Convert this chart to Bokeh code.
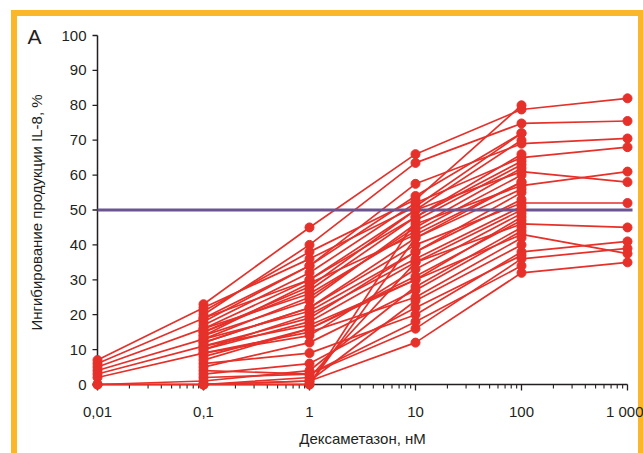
import math
from bokeh.plotting import figure
from bokeh.models import FixedTicker, Range1d, Title
from bokeh.embed import file_html
from bokeh.resources import INLINE

# ---- data -------------------------------------------------------------
conc = [0.01, 0.1, 1, 10, 100, 1000]                 # dexamethasone, nM
x_tick_labels = ["0,01", "0,1", "1", "10", "100", "1 000"]
y_ticks = [0, 10, 20, 30, 40, 50, 60, 70, 80, 90, 100]
threshold = 50

# inhibition of IL-8 production (%) per subject at each concentration (None = not measured)
v001 = [7, 6, 5, 4, 3, 2, 0, 0, 0,
        None, None, None, None, None, None, None, None, None, None, None, None,
        None, None, None, None, None, None, None, None, None, None, None, None,
        None, None, None, None]
v01 = [22, 19, 16, 13, 11, 9, 0, 0, 1,
       23, 20, 18, 17, 15, 14, 12, 10, 8, 6, 4, 0,
       21, 19, 16, 15, 13, 12, 11, 9, 5, 0, 0, 2,
       14, 10, 7, 3]
v1 = [36, 30, 26, 21, 17, 15, 0, 2, 4,
      45, 40, 34, 32, 28, 24, 22, 18, 16, 9, 3, 1,
      38, 34, 30, 27, 25, 22, 19, 14, 12, 0, 1, 3,
      29, 20, 16, 6]
v10 = [51, 48, 44, 38, 30, 25, 42, 35, 28,
       66, 63.5, 57.5, 52, 50, 46, 40, 35, 30, 20, 16, 12,
       53, 54, 50, 48, 45, 42, 38, 33, 27, 47, 24, 18,
       43, 36, 31, 22]
v100 = [72, 66, 60, 55, 48, 42, 58, 50, 45,
        78.8, 74.8, 69, 65, 61, 57, 52, 46, 43, 38, 36, 32,
        80, 72, 70, 64, 62, 56, 53, 49, 44, 63, 40, 34,
        58, 51, 47, 37]
v1000 = [None, None, None, None, None, None, None, None, None,
         82, 75.5, 70.5, 68, 58, 61, 52, 45, 37.5, 41, 39, 35,
         None, None, None, None, None, None, None, None, None, None, None, None,
         None, None, None, None]

# ---- layout (pixels) ---------------------------------------------------
W, H = 643, 453
frame_left, frame_right = 91, 633
frame_top, frame_bottom = 32, 392
px_x0, px_x1 = 97, 627      # pixel of first / last concentration
px_y100, px_y0 = 35, 384    # pixel of 100 % / 0 %

dec = (px_x1 - px_x0) / 5.0
x_start = 10 ** (math.log10(conc[0]) - (px_x0 - frame_left) / dec)
x_end = 10 ** (math.log10(conc[-1]) + (frame_right - px_x1) / dec)
upp = 100.0 / (px_y0 - px_y100)
y_start = -(frame_bottom - px_y0) * upp
y_end = 100 + (px_y100 - frame_top) * upp

FONT = "'Liberation Sans', Arial, sans-serif"
TXT = "#231F20"
RED = "#E5312A"
PURPLE = "#6A5590"
ORANGE = "#FBB62A"

p = figure(width=W, height=H, x_axis_type="log",
           x_range=Range1d(x_start, x_end), y_range=Range1d(y_start, y_end),
           output_backend="svg", toolbar_location=None,
           min_border_left=frame_left, min_border_right=W - frame_right,
           min_border_top=frame_top, min_border_bottom=H - frame_bottom)
p.outline_line_color = None
p.xgrid.grid_line_color = None
p.ygrid.grid_line_color = None
p.background_fill_color = "white"
p.border_fill_color = None

# orange frame of the panel (page background of the figure element)
p.styles = {
    "background-color": "white",
    "background-image": (f"linear-gradient({ORANGE},{ORANGE}), "
                         f"linear-gradient({ORANGE},{ORANGE}), "
                         f"linear-gradient({ORANGE},{ORANGE})"),
    "background-size": "632px 6px, 6px 443px, 5px 443px",
    "background-position": "11px 10px, 11px 10px, 638px 10px",
    "background-repeat": "no-repeat",
}

for ax in (p.xaxis[0], p.yaxis[0]):
    ax.axis_line_color = None
    ax.major_tick_line_color = None
    ax.minor_tick_line_color = None
    ax.major_tick_in = 0
    ax.major_tick_out = 0
    ax.minor_tick_in = 0
    ax.minor_tick_out = 0
    ax.major_label_text_font = FONT
    ax.major_label_text_font_size = "15px"
    ax.major_label_text_color = TXT
    ax.axis_label_text_font = FONT
    ax.axis_label_text_font_size = "15px"
    ax.axis_label_text_font_style = "normal"
    ax.axis_label_text_color = TXT

p.xaxis.ticker = FixedTicker(ticks=conc, minor_ticks=[])
p.xaxis.major_label_overrides = {c: l for c, l in zip(conc, x_tick_labels)}
p.xaxis.major_label_standoff = 10
p.xaxis.axis_label = "Дексаметазон, нМ"
p.xaxis.axis_label_standoff = 7

p.yaxis.ticker = FixedTicker(ticks=y_ticks, minor_ticks=[])
p.yaxis.major_label_standoff = 5
p.yaxis.axis_label = "Ингибирование продукции IL-8, %"
p.yaxis.axis_label_standoff = 13

# panel letter
p.title = Title(text="A", align="left", offset=-64, standoff=-30,
                vertical_align="bottom", text_font=FONT,
                text_font_size="21px", text_font_style="normal", text_color=TXT)
p.title_location = "above"

# ---- hand-drawn axis lines and ticks ------------------------------------
p.segment(x0=[conc[0], conc[0]], y0=[0, 0], x1=[conc[-1], conc[0]], y1=[0, 100],
          line_color=TXT, line_width=1.5)
p.ray(x=[conc[0]] * len(y_ticks), y=y_ticks, length=5, length_units="screen",
      angle=math.pi, line_color=TXT, line_width=1.3)
p.ray(x=conc, y=[0] * len(conc), length=6, length_units="screen",
      angle=-math.pi / 2, line_color=TXT, line_width=1.3)
minor = [m * c for c in conc[:-1] for m in range(2, 10)]
p.ray(x=minor, y=[0] * len(minor), length=4, length_units="screen",
      angle=-math.pi / 2, line_color=TXT, line_width=1.1)

# ---- data lines ----------------------------------------------------------
series = [v001, v01, v1, v10, v100, v1000]
xs, ys, pxs, pys = [], [], [], []
for i in range(len(v01)):
    cx = [c for c, s in zip(conc, series) if s[i] is not None]
    cy = [s[i] for s in series if s[i] is not None]
    xs.append(cx)
    ys.append(cy)
    pxs.extend(cx)
    pys.extend(cy)

p.multi_line(xs=xs, ys=ys, line_color=RED, line_width=1.7)
p.segment(x0=[conc[0]], y0=[threshold], x1=[10 ** (math.log10(conc[-1]) + 5 / dec)],
          y1=[threshold], line_color=PURPLE, line_width=3)
p.scatter(x=pxs, y=pys, size=9, fill_color=RED, line_color=RED)

open("out.html", "w").write(file_html(p, INLINE))
